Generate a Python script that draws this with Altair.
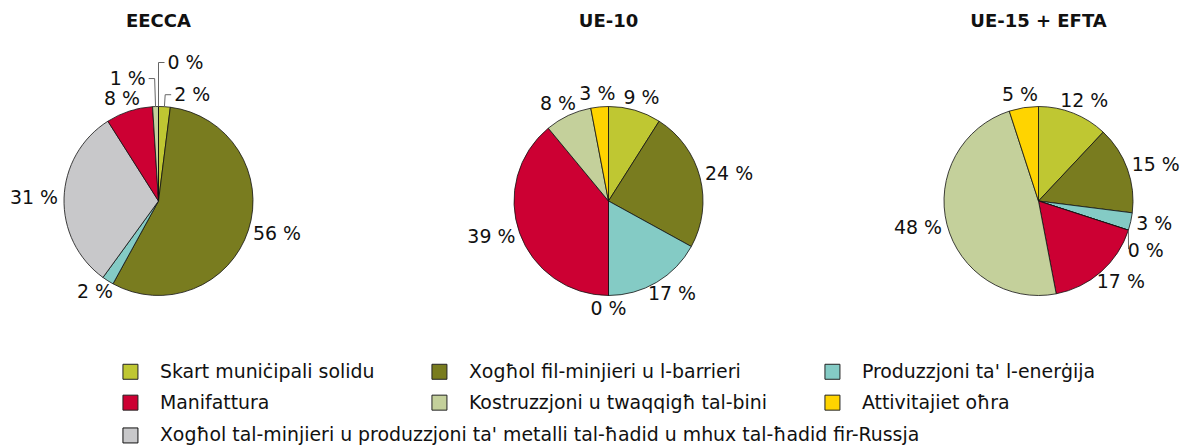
import altair as alt
import pandas as pd

# ---------------- data ----------------
regions = ["EECCA", "UE-10", "UE-15 + EFTA"]
categories = [
    "Skart muniċipali solidu",
    "Xogħol fil-minjieri u l-barrieri",
    "Produzzjoni ta' l-enerġija",
    "Xogħol tal-minjieri u produzzjoni ta' metalli tal-ħadid u mhux tal-ħadid fir-Russja",
    "Manifattura",
    "Kostruzzjoni u twaqqigħ tal-bini",
    "Attivitajiet oħra",
]
values_eecca = [2, 56, 2, 31, 8, 1, 0]
values_ue10 = [9, 24, 17, 0, 39, 8, 3]
values_ue15 = [12, 15, 3, 0, 17, 48, 5]
legend_order = [categories[i] for i in (0, 1, 2, 4, 5, 6, 3)]
legend_colors = ["#BFC732", "#797C1F", "#84CBC5", "#CC0033", "#C4D09B", "#FFD400", "#C8C8CA"]

rows = []
for reg, vals in zip(regions, [values_eecca, values_ue10, values_ue15]):
    for i, (c, v) in enumerate(zip(categories, vals)):
        rows.append({"region": reg, "cat": c, "cat2": c, "value": v, "idx": i})
df = pd.DataFrame(rows)

# ---------------- layout ----------------
R = 94.5
H = 334
widths = [301, 599, 261]
FONT = "DejaVu Sans"
LBL = 18.9

fill_scale = alt.Scale(domain=legend_order, range=legend_colors)
# different domain order so the stroke legend is kept separate from the fill legend
stroke_scale = alt.Scale(domain=categories, range=["#111111"] * len(categories))

legend_a = alt.Legend(
    values=legend_order[:6], orient="none", legendX=113, legendY=328, columns=3,
    direction="horizontal",
    title=None, symbolType="square", symbolSize=225, symbolStrokeColor="#222222",
    symbolStrokeWidth=1, labelFont=FONT, labelFontSize=LBL, labelColor="#111111",
    labelLimit=1000, labelOffset=20, columnPadding=54, rowPadding=10.2, padding=0,
)
legend_b = alt.Legend(
    values=[categories[3]], orient="none", legendX=113, legendY=392,
    title=None, symbolType="square", symbolSize=225, symbolFillColor="#C8C8CA",
    symbolStrokeWidth=1, labelFont=FONT, labelFontSize=LBL, labelColor="#111111",
    labelLimit=1000, labelOffset=20, padding=0,
)


def pie(region, W):
    xs = alt.Scale(domain=[-W / 2, W / 2], zero=False, nice=False)
    ys = alt.Scale(domain=[-H / 2, H / 2], zero=False, nice=False)
    base = (
        alt.Chart(df)
        .transform_filter(alt.datum.region == region)
        .transform_joinaggregate(total="sum(value)")
        .transform_window(cum="sum(value)", sort=[alt.SortField("idx")], frame=[None, 0])
        .transform_calculate(th="(datum.cum - datum.value/2)/datum.total*2*PI")
        .transform_calculate(ths="datum.th > PI ? datum.th - 2*PI : datum.th")
        .transform_window(window=[{"op": "lag", "field": "ths", "as": "prevth"}],
                          sort=[alt.SortField("ths")])
        .transform_calculate(
            newc="isValid(datum.prevth) && (datum.ths - datum.prevth) < 0.175 ? 0 : 1")
        .transform_window(cid="sum(newc)", sort=[alt.SortField("ths")], frame=[None, 0])
        .transform_window(window=[{"op": "row_number", "as": "rn"}], groupby=["cid"],
                          sort=[alt.SortField("value", order="descending"), alt.SortField("ths")])
        .transform_joinaggregate(csize="count()", cm="mean(ths)", groupby=["cid"])
        .transform_calculate(
            lvl="datum.rn - 1",
            s="sin(datum.th)",
            c="cos(datum.th)",
            label="datum.value + ' %'",
        )
        .transform_calculate(
            elbow="datum.csize > 1 && abs(datum.s) < 0.5",
            w="12.0*(length(datum.label) - 2) + 24",
            tdir="datum.ths >= datum.cm ? 1 : -1",
        )
        .transform_calculate(
            side="datum.elbow ? (datum.lvl % 2 == 0 ? 1 : -1) : (datum.s >= 0 ? 1 : -1)",
            r1=f"datum.elbow ? {R} + 12 + 16*datum.lvl : {R} + 6",
            sh="datum.elbow ? 0 : 18*datum.lvl*datum.tdir",
        )
        .transform_calculate(
            p0x=f"{R}*datum.s",
            p0y=f"{R}*datum.c",
            p1x="datum.r1*datum.s + datum.sh*datum.c",
            p1y="datum.r1*datum.c - datum.sh*datum.s",
        )
        .transform_calculate(
            p2x="datum.elbow ? datum.p1x + 6*datum.side : datum.p1x",
            p2y="datum.p1y",
        )
        .transform_calculate(
            lx="datum.elbow ? datum.p2x + datum.side*(3 + datum.w/2) : datum.p1x + datum.w/2*datum.s",
            ly="datum.elbow ? datum.p2y : datum.p1y + 7*datum.c",
            lead="datum.elbow || datum.lvl > 0",
        )
    )
    arcs = base.mark_arc(radius=R, strokeWidth=0.8).encode(
        theta=alt.Theta("value:Q", stack=True),
        order=alt.Order("idx:Q"),
        fill=alt.Fill("cat:N", scale=fill_scale, legend=legend_a),
        stroke=alt.Stroke("cat2:N", scale=stroke_scale, legend=legend_b),
    )
    lead1 = base.transform_filter("datum.lead").mark_rule(color="#666666", strokeWidth=1).encode(
        x=alt.X("p0x:Q", scale=xs, axis=None),
        y=alt.Y("p0y:Q", scale=ys, axis=None),
        x2="p1x:Q",
        y2="p1y:Q",
    )
    lead2 = base.transform_filter("datum.elbow").mark_rule(color="#666666", strokeWidth=1).encode(
        x=alt.X("p1x:Q", scale=xs, axis=None),
        y=alt.Y("p1y:Q", scale=ys, axis=None),
        x2="p2x:Q",
        y2="p2y:Q",
    )
    labels = base.mark_text(font=FONT, fontSize=LBL, color="#111111",
                            align="center", baseline="middle").encode(
        x=alt.X("lx:Q", scale=xs, axis=None),
        y=alt.Y("ly:Q", scale=ys, axis=None),
        text="label:N",
    )
    return alt.layer(arcs, lead1, lead2, labels).properties(
        width=W, height=H,
        title=alt.TitleParams(region, font=FONT, fontSize=18, fontWeight="bold",
                              color="#111111", offset=3),
    )


chart = (
    alt.hconcat(*[pie(r, w) for r, w in zip(regions, widths)], spacing=0, bounds="flush")
    .resolve_scale(x="independent", y="independent", fill="shared", stroke="shared")
    .resolve_legend(fill="shared", stroke="shared")
    .properties(padding={"left": 0, "top": 5, "right": 0, "bottom": 0})
    .configure(font=FONT)
    .configure_view(stroke="transparent", strokeWidth=0)
)

chart.save("out.html", embed_options={"renderer": "svg", "actions": False})
